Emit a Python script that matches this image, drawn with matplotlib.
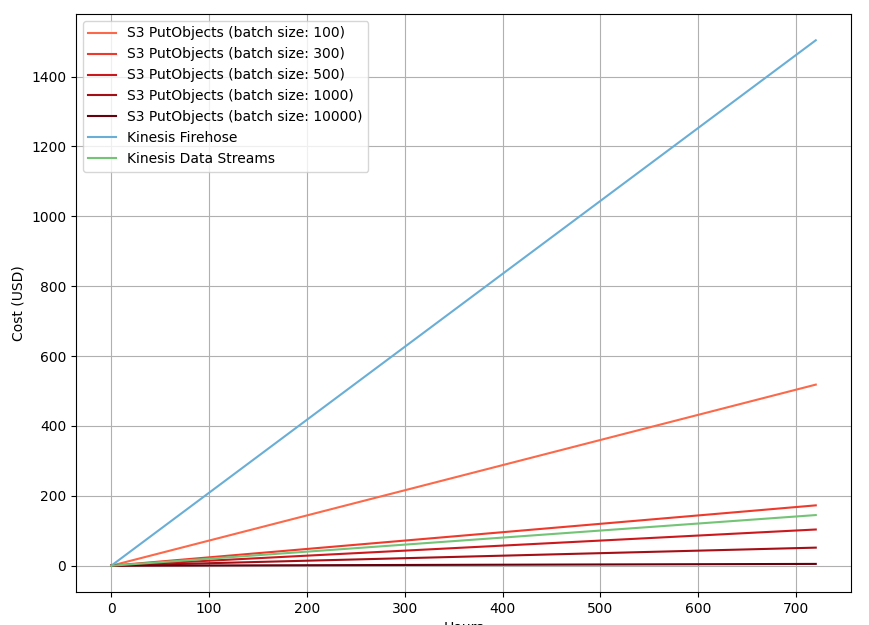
import matplotlib
matplotlib.use("Agg")
import matplotlib.pyplot as plt
import numpy as np

hours = [0, 720]
labels = [
    "S3 PutObjects (batch size: 100)",
    "S3 PutObjects (batch size: 300)",
    "S3 PutObjects (batch size: 500)",
    "S3 PutObjects (batch size: 1000)",
    "S3 PutObjects (batch size: 10000)",
    "Kinesis Firehose",
    "Kinesis Data Streams",
]
s3_100 = [0, 518.4]
s3_300 = [0, 172.8]
s3_500 = [0, 103.7]
s3_1000 = [0, 51.8]
s3_10000 = [0, 5.2]
firehose = [0, 1504]
kds = [0, 145]

series = [s3_100, s3_300, s3_500, s3_1000, s3_10000, firehose, kds]
reds = plt.get_cmap("Reds")
colors = [reds(v) for v in np.linspace(0.5, 1.0, 5)] + [
    plt.get_cmap("Blues")(0.5), plt.get_cmap("Greens")(0.5)]

fig = plt.figure(figsize=(8.7, 6.25), dpi=100)
ax = fig.add_axes([76/870, 33/625, 775/870, 578/625])
for lab, vals, c in zip(labels, series, colors):
    ax.plot(hours, vals, color=c, label=lab)
ax.grid(True)
ax.set_xlabel("Hours")
ax.set_ylabel("Cost (USD)")
ax.legend(loc="upper left")
fig.savefig("out.png", dpi=100)
